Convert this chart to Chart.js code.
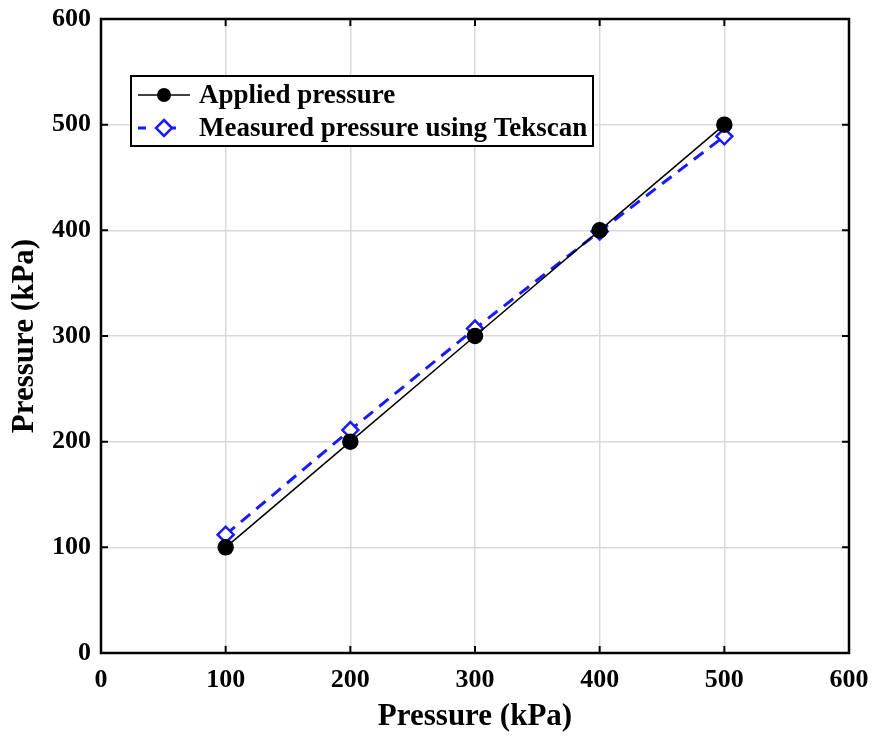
<!DOCTYPE html>
<html><head><meta charset="utf-8">
<script src="https://cdn.jsdelivr.net/npm/chart.js@4.4.1/dist/chart.umd.min.js"></script>
<style>html,body{margin:0;padding:0;background:#fff}#c{display:block}</style>
</head><body>
<canvas id="c" width="874" height="737"></canvas>
<script>
const xValues = [100, 200, 300, 400, 500];
const appliedPressure = [100, 200, 300, 400, 500];
const measuredPressure = [112, 211, 307, 399, 489];
const xTicks = [0, 100, 200, 300, 400, 500, 600];
const yTicks = [0, 100, 200, 300, 400, 500, 600];
const seriesNames = ['Applied pressure', 'Measured pressure using Tekscan'];
const axisTitle = 'Pressure (kPa)';

const FONT = '"Liberation Serif", "Times New Roman", serif';

const innerTicks = {
  id: 'innerTicks',
  afterDatasetsDraw(chart) {
    const {ctx, chartArea: a, scales: {x, y}} = chart;
    ctx.save();
    ctx.strokeStyle = '#000'; ctx.lineWidth = 2;
    const L = 7;
    ctx.beginPath();
    xTicks.forEach(v => { const px = x.getPixelForValue(v);
      ctx.moveTo(px, a.bottom); ctx.lineTo(px, a.bottom - L);
      ctx.moveTo(px, a.top); ctx.lineTo(px, a.top + L); });
    yTicks.forEach(v => { const py = y.getPixelForValue(v);
      ctx.moveTo(a.left, py); ctx.lineTo(a.left + L, py);
      ctx.moveTo(a.right, py); ctx.lineTo(a.right - L, py); });
    ctx.stroke();
    ctx.lineWidth = 2.5;
    ctx.strokeRect(a.left, a.top, a.right - a.left, a.bottom - a.top);
    ctx.restore();
  }
};

const boxLegend = {
  id: 'boxLegend',
  afterDraw(chart) {
    const ctx = chart.ctx;
    const ds = chart.data.datasets;
    ctx.save();
    const bx = 131, by = 76, bw = 462, bh = 70;
    ctx.fillStyle = '#fff'; ctx.fillRect(bx, by, bw, bh);
    ctx.strokeStyle = '#000'; ctx.lineWidth = 2; ctx.strokeRect(bx, by, bw, bh);
    const rows = [95, 128];
    ctx.font = 'bold 27px ' + FONT;
    ctx.textBaseline = 'middle';
    ds.forEach((d, i) => {
      const yy = rows[i];
      ctx.strokeStyle = d.borderColor; ctx.lineWidth = i === 0 ? 1.5 : 3;
      ctx.setLineDash(i === 0 ? [] : [8, 22]);
      ctx.beginPath(); ctx.moveTo(138, yy); ctx.lineTo(190, yy); ctx.stroke();
      ctx.setLineDash([]);
      if (i === 0) {
        ctx.fillStyle = '#000'; ctx.beginPath(); ctx.arc(164, yy, 7, 0, Math.PI * 2); ctx.fill();
      } else {
        ctx.fillStyle = '#fff'; ctx.strokeStyle = d.borderColor; ctx.lineWidth = 2.5;
        ctx.beginPath(); ctx.moveTo(164, yy - 8); ctx.lineTo(172, yy); ctx.lineTo(164, yy + 8); ctx.lineTo(156, yy); ctx.closePath();
        ctx.fill(); ctx.stroke();
      }
      ctx.fillStyle = '#000';
      ctx.fillText(d.label, 199, yy + 1);
    });
    ctx.restore();
  }
};

function zeroPad(s) { s.paddingLeft = 0; s.paddingRight = 0; s.paddingTop = 0; s.paddingBottom = 0; }

new Chart(document.getElementById('c'), {
  type: 'line',
  data: {
    datasets: [
      { label: seriesNames[0], data: xValues.map((v, i) => ({x: v, y: appliedPressure[i]})),
        borderColor: '#000', backgroundColor: '#000', borderWidth: 1.5,
        pointStyle: 'circle', pointRadius: 7.5, pointBackgroundColor: '#000', pointBorderColor: '#000' },
      { label: seriesNames[1], data: xValues.map((v, i) => ({x: v, y: measuredPressure[i]})),
        borderColor: '#1a1aff', backgroundColor: '#fff', borderWidth: 3, borderDash: [12, 8],
        pointStyle: 'rectRot', pointRadius: 8, pointBorderWidth: 2.5,
        pointBackgroundColor: '#fff', pointBorderColor: '#1a1aff' }
    ]
  },
  options: {
    responsive: false, animation: false, devicePixelRatio: 1,
    layout: { padding: { left: 0, right: 25, top: 19, bottom: 0 } },
    plugins: { legend: { display: false }, tooltip: { enabled: false } },
    scales: {
      x: { type: 'linear', min: 0, max: 600,
        afterBuildTicks: s => { s.ticks = xTicks.map(v => ({value: v})); },
        afterFit: s => { s.height = 84; zeroPad(s); },
        grid: { color: '#d9d9d9', lineWidth: 1.5, drawTicks: false },
        border: { display: false },
        ticks: { color: '#000', padding: 12, maxRotation: 0, font: { family: FONT, size: 26, weight: 'bold' } },
        title: { display: true, text: axisTitle, color: '#000', padding: { top: 0, bottom: 1 }, font: { family: FONT, size: 31, weight: 'bold' } } },
      y: { type: 'linear', min: 0, max: 600,
        afterBuildTicks: s => { s.ticks = yTicks.map(v => ({value: v})); },
        afterFit: s => { s.width = 101; zeroPad(s); },
        grid: { color: '#d9d9d9', lineWidth: 1.5, drawTicks: false },
        border: { display: false },
        ticks: { color: '#000', padding: 10, font: { family: FONT, size: 26, weight: 'bold' } },
        title: { display: true, text: axisTitle, color: '#000', padding: { top: 6, bottom: 0 }, font: { family: FONT, size: 31, weight: 'bold' } } }
    }
  },
  plugins: [innerTicks, boxLegend]
});
</script>
</body></html>
